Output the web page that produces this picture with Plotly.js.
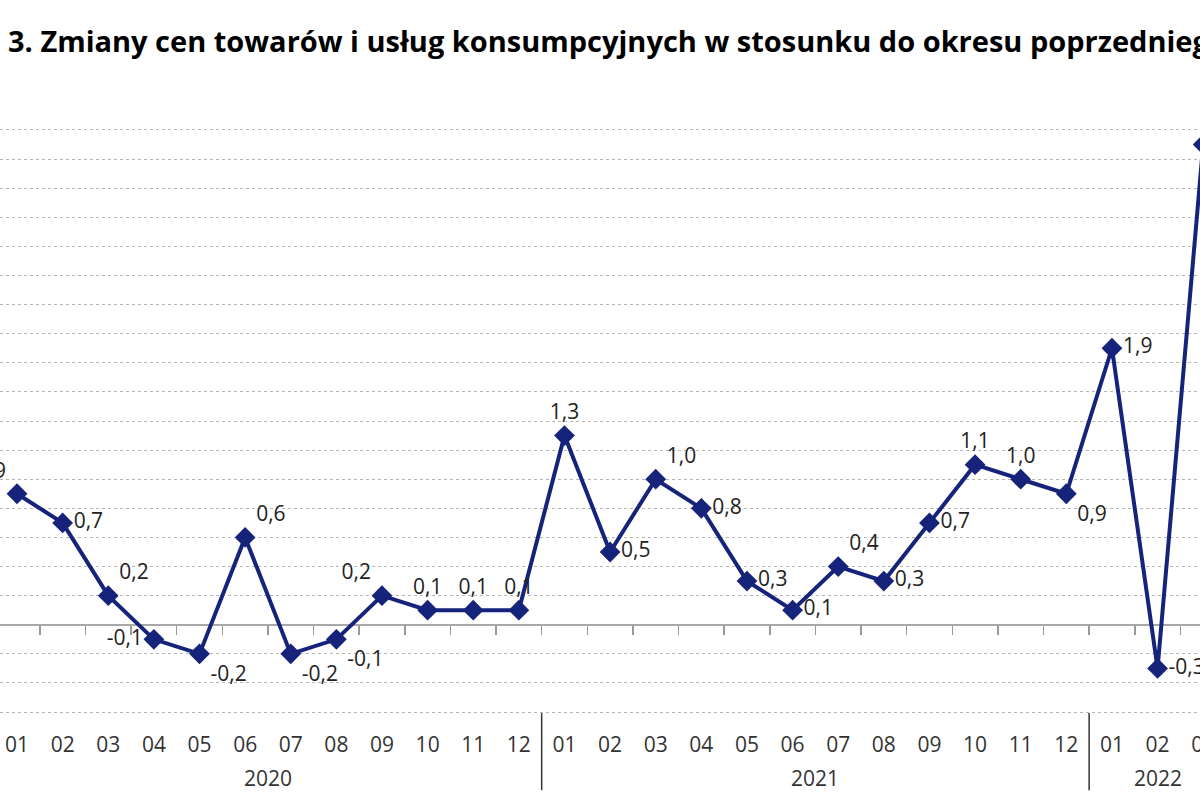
<!DOCTYPE html>
<html>
<head>
<meta charset="utf-8">
<script src="https://cdn.plot.ly/plotly-3.0.1.min.js"></script>
<style>html,body{margin:0;padding:0;background:#fff;overflow:hidden;width:1200px;height:800px}#chart{width:1226px;height:800px}</style>
</head>
<body>
<div id="chart"></div>
<script>
// ---- data ----
const titleText = "3. Zmiany cen towarów i usług konsumpcyjnych w stosunku do okresu poprzedniego";
const years = ["2020", "2021", "2022"];
const months2020 = ["01","02","03","04","05","06","07","08","09","10","11","12"];
const months2021 = ["01","02","03","04","05","06","07","08","09","10","11","12"];
const months2022 = ["01","02","03"];
const values2020 = [0.9, 0.7, 0.2, -0.1, -0.2, 0.6, -0.2, -0.1, 0.2, 0.1, 0.1, 0.1];
const values2021 = [1.3, 0.5, 1.0, 0.8, 0.3, 0.1, 0.4, 0.3, 0.7, 1.1, 1.0, 0.9];
const values2022 = [1.9, -0.3, 3.3];
const labelPos2020 = ["top left","middle right","top right","middle left","bottom right","top right","bottom right","bottom right","top left","top center","top center","top center"];
const labelPos2021 = ["top center","middle right","top right","middle right","middle right","middle right","top right","middle right","middle right","top center","top center","bottom right"];
const labelPos2022 = ["middle right","middle right","middle right"];

// ---- build ----
const monthGroups = [months2020, months2021, months2022];
const valueGroups = [values2020, values2021, values2022];
const posGroups = [labelPos2020, labelPos2021, labelPos2022];
const xCat = [], xMonth = [], yVals = [], tPos = [];
const groupStart = [];
monthGroups.forEach((ms, gi) => {
  groupStart.push(xCat.length);
  ms.forEach((m, i) => {
    xCat.push(years[gi] + "-" + m);
    xMonth.push(m);
    yVals.push(valueGroups[gi][i]);
    tPos.push(posGroups[gi][i]);
  });
});
const fmt = v => v.toFixed(1).replace(".", ",");
const boundaries = yVals.slice(1).map((_, i) => i + 0.5);

const navy = "#16237b";
const W = 1226;
const xRange = [-0.373, yVals.length - 0.5];
const fontFam = "Open Sans, sans-serif";

// plot area: 127.1 .. 714.9 px
const plotTop = 127.1, plotBot = 714.9, plotH = plotBot - plotTop;
const pyPaper = p => (plotBot - p) / plotH;

const yearAnnotations = years.map((yr, gi) => ({
  text: yr,
  x: groupStart[gi] + (monthGroups[gi].length - 1) / 2,
  xref: "x",
  y: pyPaper(778),
  yref: "paper",
  xanchor: "center",
  yanchor: "middle",
  showarrow: false,
  font: {family: fontFam, size: 21, color: "#333"}
}));
const dividerShapes = groupStart.slice(1).map(s => ({
  type: "line",
  xref: "x", yref: "paper",
  x0: s - 0.5, x1: s - 0.5,
  y0: pyPaper(713), y1: pyPaper(790),
  line: {color: "#333", width: 1.5}
}));

const traces = [
  {
    type: "scatter",
    mode: "lines+markers+text",
    x: xCat,
    y: yVals,
    text: yVals.map(fmt),
    textposition: tPos,
    textfont: {family: fontFam, size: 21, color: "#222"},
    line: {color: navy, width: 4},
    marker: {symbol: "diamond", size: 16, color: navy},
    cliponaxis: false,
    hoverinfo: "skip",
    showlegend: false
  },
  {
    type: "scatter",
    x: [], y: [],
    xaxis: "x2", yaxis: "y",
    showlegend: false, hoverinfo: "skip"
  }
];

const layout = {
  width: W,
  height: 800,
  margin: {l: 0, r: 0, t: plotTop, b: 800 - plotBot},
  paper_bgcolor: "#fff",
  plot_bgcolor: "#fff",
  showlegend: false,
  title: {
    text: titleText,
    x: 8 / W, xref: "container", xanchor: "left",
    y: 1 - 42 / 800, yref: "container", yanchor: "middle",
    font: {family: fontFam, size: 29, weight: 700, color: "#000"}
  },
  xaxis: {
    type: "category",
    range: xRange,
    tickmode: "array",
    tickvals: xCat,
    ticktext: xMonth,
    showgrid: false,
    zeroline: false,
    showline: false,
    ticks: "",
    ticklabelstandoff: 15,
    tickangle: 0,
    tickfont: {family: fontFam, size: 21, color: "#333"}
  },
  xaxis2: {
    type: "linear",
    overlaying: "x",
    anchor: "free",
    position: 0.62 / 4.04,
    range: xRange,
    tickmode: "array",
    tickvals: boundaries,
    ticks: "outside",
    ticklen: 9,
    tickwidth: 1.5,
    tickcolor: "#999",
    showticklabels: false,
    showgrid: false,
    zeroline: false,
    showline: false
  },
  yaxis: {
    range: [-0.62, 3.42],
    dtick: 0.2,
    tick0: 0,
    showticklabels: false,
    ticks: "",
    showgrid: true,
    gridcolor: "#b5b5b5",
    griddash: "dot",
    gridwidth: 1,
    zeroline: true,
    zerolinecolor: "#a8a8a8",
    zerolinewidth: 1.5,
    showline: false
  },
  annotations: yearAnnotations,
  shapes: dividerShapes
};

Plotly.newPlot("chart", traces, layout, {staticPlot: true, displayModeBar: false});
</script>
</body>
</html>
